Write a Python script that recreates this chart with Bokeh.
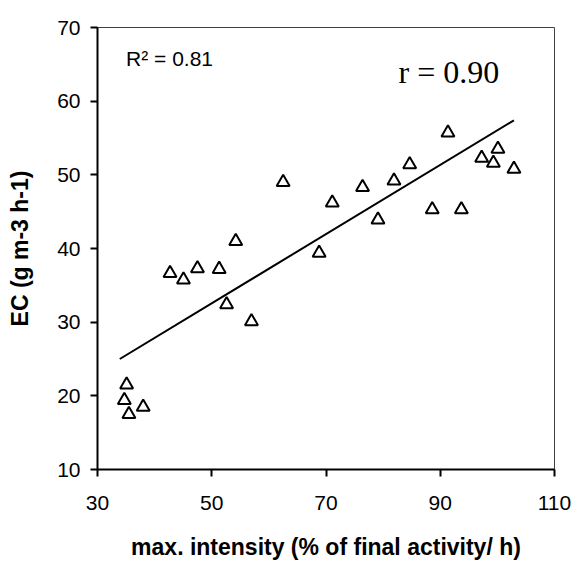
import numpy as np
from bokeh.plotting import figure
from bokeh.models import Range1d, FixedTicker, Label
from bokeh.embed import file_html
from bokeh.resources import INLINE

# data
intensity = [35.1, 34.7, 35.5, 38.0, 42.7, 45.05, 47.5, 51.3, 54.2, 52.6, 56.95,
             62.5, 68.8, 71.1, 76.4, 79.1, 81.9, 84.65, 88.6, 91.35, 93.7,
             97.25, 99.3, 100.1, 102.9]
ec = [21.5, 19.4, 17.5, 18.5, 36.65, 35.75, 37.3, 37.2, 41.0, 32.4, 30.1,
      49.0, 39.4, 46.2, 48.3, 43.9, 49.2, 51.4, 45.3, 55.7, 45.3,
      52.3, 51.6, 53.5, 50.8]
# linear trend line as drawn in the picture
trend_slope = 0.4696
trend_intercept = 9.08
trend_range = [33.9, 102.9]
x_ticks = [30, 50, 70, 90, 110]
y_ticks = [10, 20, 30, 40, 50, 60, 70]
r2_text = "R\u00b2 = 0.81"
r_text = "r = 0.90"
x_title = "max. intensity (% of final activity/ h)"
y_title = "EC (g m-3 h-1)"

p = figure(width=579, height=571, output_backend="svg", toolbar_location=None,
           x_range=Range1d(30, 110), y_range=Range1d(10, 70),
           min_border_left=97, min_border_right=25, min_border_top=27,
           min_border_bottom=102)
p.background_fill_color = "white"
p.border_fill_color = "white"
p.outline_line_color = "#404040"
p.outline_line_width = 1
p.grid.visible = False

for ax in (p.xaxis[0], p.yaxis[0]):
    ax.axis_line_color = "black"
    ax.axis_line_width = 2
    ax.major_tick_line_color = "black"
    ax.major_tick_line_width = 2
    ax.major_tick_out = 7
    ax.major_tick_in = 0
    ax.minor_tick_line_color = None
    ax.major_label_text_font = "Liberation Sans"
    ax.major_label_text_font_size = "21px"
    ax.major_label_text_color = "black"
    ax.axis_label_text_font = "Liberation Sans"
    ax.axis_label_text_font_size = "23px"
    ax.axis_label_text_font_style = "bold"
    ax.axis_label_text_color = "black"

p.xaxis[0].ticker = FixedTicker(ticks=x_ticks)
p.yaxis[0].ticker = FixedTicker(ticks=y_ticks)
p.xaxis[0].axis_label = x_title
p.yaxis[0].axis_label = y_title
p.xaxis[0].major_label_standoff = 19
p.yaxis[0].major_label_standoff = 10
p.xaxis[0].axis_label_standoff = 21
p.yaxis[0].axis_label_standoff = 21

fx = np.array(trend_range)
p.line(fx, trend_slope * fx + trend_intercept, line_color="black", line_width=2)

p.scatter(intensity, ec, marker="triangle", size=13, fill_color="white",
          line_color="black", line_width=2)

p.add_layout(Label(x=35, y=65.8, text=r2_text, text_font="Liberation Sans",
                   text_font_size="21px", text_color="black",
                   text_baseline="alphabetic"))
p.add_layout(Label(x=82.7, y=63.9, text=r_text, text_font="Liberation Serif",
                   text_font_size="32px", text_color="black",
                   text_baseline="alphabetic"))

open("out.html", "w").write(file_html(p, INLINE))
